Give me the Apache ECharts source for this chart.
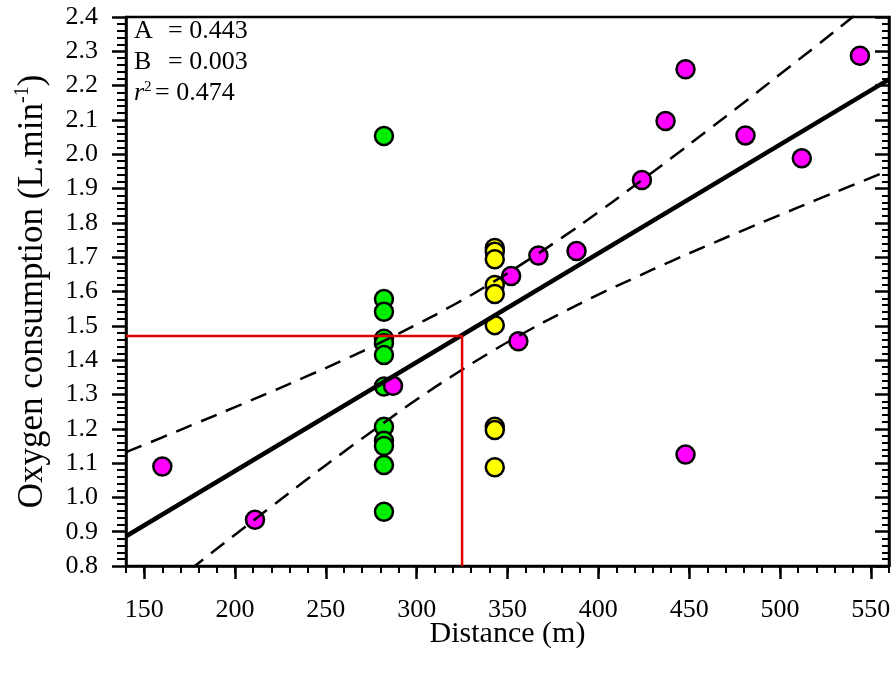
<!DOCTYPE html>
<html>
<head>
<meta charset="utf-8">
<title>Oxygen consumption vs distance</title>
<script src="https://cdn.jsdelivr.net/npm/echarts@6/dist/echarts.min.js"></script>
<style>
  html, body { margin: 0; padding: 0; background: #fff; }
  #chart { width: 895px; height: 681px; }
</style>
</head>
<body>
<div id="chart"></div>
<script>
// Measured runs: distance (m) and oxygen consumption (L/min), by group
const greenDist = [282, 282, 282, 282, 282, 282, 282, 282, 282, 282, 282, 282];
const greenO2 = [2.053, 1.578, 1.541, 1.462, 1.450, 1.415, 1.323, 1.206, 1.165, 1.150, 1.094, 0.958];

const yellowDist = [343, 343, 343, 343, 343, 343, 343, 343, 343];
const yellowO2 = [1.727, 1.716, 1.694, 1.619, 1.593, 1.502, 1.206, 1.196, 1.088];

const magentaDist = [160, 211, 287, 352, 356, 367, 388, 424, 437, 448, 448, 481, 512, 544];
const magentaO2 = [1.090, 0.935, 1.325, 1.645, 1.455, 1.705, 1.718, 1.925, 2.097, 2.248, 1.125, 2.055, 1.988, 2.287];

// Linear fit y = A + B*x and its 95% confidence band
const fitA = 0.443;
const fitB = 0.00317;
const fitR2 = 0.474;
const bandX = [140, 160, 180, 200, 220, 240, 260, 280, 300, 320, 340, 360, 380, 400, 420, 440, 460, 480, 500, 520, 540, 560];
const bandUpper = [1.132, 1.175, 1.219, 1.263, 1.308, 1.354, 1.401, 1.451, 1.504, 1.560, 1.621, 1.687, 1.757, 1.831, 1.909, 1.988, 2.069, 2.150, 2.233, 2.316, 2.400, 2.484];
const bandLower = [0.642, 0.726, 0.809, 0.891, 0.973, 1.054, 1.133, 1.210, 1.285, 1.355, 1.421, 1.482, 1.538, 1.591, 1.640, 1.688, 1.734, 1.779, 1.823, 1.867, 1.910, 1.953];

// Reference reading: distance and predicted consumption
const refDist = 325;
const refO2 = 1.47;

// Axis extents and tick positions
const xRange = [140, 560];
const xMajorTicks = [150, 200, 250, 300, 350, 400, 450, 500, 550];
const xMinorTicks = [140, 150, 160, 170, 180, 190, 200, 210, 220, 230, 240, 250, 260, 270, 280, 290, 300, 310, 320, 330, 340, 350, 360, 370, 380, 390, 400, 410, 420, 430, 440, 450, 460, 470, 480, 490, 500, 510, 520, 530, 540, 550, 560];
const yRange = [0.8, 2.4];
const yStep = 0.1;

const zip = (xs, ys) => xs.map((x, i) => [x, ys[i]]);

const FONT = "'Liberation Serif', 'Times New Roman', serif";
const labelStyle = { color: '#000', fontFamily: FONT, fontSize: 26 };
const AXIS_W = 2.5;

const chart = echarts.init(document.getElementById('chart'), null, { renderer: 'canvas' });

const dotStyle = (fill) => ({
  color: fill,
  borderColor: '#000',
  borderWidth: 2.5,
  opacity: 1
});

const option = {
  animation: false,
  backgroundColor: '#fff',
  grid: {
    left: 126, right: 6, top: 17, bottom: 115,
    show: true, borderColor: '#000', borderWidth: AXIS_W, backgroundColor: 'transparent'
  },
  xAxis: [
    {
      type: 'value', position: 'bottom', min: xRange[0], max: xRange[1],
      name: 'Distance (m)', nameLocation: 'middle', nameGap: 53, nameMoveOverlap: false,
      nameTextStyle: { color: '#000', fontFamily: FONT, fontSize: 30 },
      axisLine: { show: true, onZero: false, lineStyle: { color: '#000', width: AXIS_W } },
      axisTick: { show: true, customValues: xMajorTicks, length: 13, lineStyle: { color: '#000', width: 2.5 } },
      axisLabel: Object.assign({ customValues: xMajorTicks, margin: 31, formatter: v => String(v) }, labelStyle),
      splitLine: { show: false }
    },
    {
      type: 'value', position: 'bottom', min: xRange[0], max: xRange[1],
      axisLine: { show: false },
      axisTick: { show: true, customValues: xMinorTicks, length: 7, lineStyle: { color: '#000', width: 2 } },
      axisLabel: { show: false },
      splitLine: { show: false }
    }
  ],
  yAxis: [
    {
      type: 'value', position: 'left', min: yRange[0], max: yRange[1], interval: yStep,
      name: '{t|Oxygen consumption (L.min}{s|-1}{t|)}', nameLocation: 'middle', nameGap: 73, nameRotate: 90,
      nameMoveOverlap: false,
      nameTextStyle: {
        color: '#000', fontFamily: FONT, fontSize: 35,
        rich: {
          t: { color: '#000', fontFamily: FONT, fontSize: 35, lineHeight: 40 },
          s: { color: '#000', fontFamily: FONT, fontSize: 20, verticalAlign: 'top', lineHeight: 40 }
        }
      },
      axisLine: { show: true, onZero: false, lineStyle: { color: '#000', width: AXIS_W } },
      axisTick: { show: true, length: 14, lineStyle: { color: '#000', width: 2.5 } },
      minorTick: { show: true, splitNumber: 5, length: 9, lineStyle: { color: '#000', width: 2 } },
      axisLabel: Object.assign({ margin: 28, formatter: v => v.toFixed(1) }, labelStyle),
      splitLine: { show: false },
      minorSplitLine: { show: false }
    },
    {
      type: 'value', position: 'right', min: yRange[0], max: yRange[1], interval: yStep,
      axisLine: { show: true, onZero: false, lineStyle: { color: '#000', width: AXIS_W } },
      axisTick: { show: true, inside: true, length: 14, lineStyle: { color: '#000', width: 2.5 } },
      minorTick: { show: true, splitNumber: 5, length: 7, lineStyle: { color: '#000', width: 2 } },
      axisLabel: { show: false },
      splitLine: { show: false }
    }
  ],
  series: [
    {
      name: 'Group 1', type: 'scatter', symbol: 'circle', symbolSize: 18,
      data: zip(greenDist, greenO2), itemStyle: dotStyle('#00ee00'), z: 3
    },
    {
      name: 'Group 2', type: 'scatter', symbol: 'circle', symbolSize: 18,
      data: zip(yellowDist, yellowO2), itemStyle: dotStyle('#ffff00'), z: 3
    },
    {
      name: 'Group 3', type: 'scatter', symbol: 'circle', symbolSize: 18,
      data: zip(magentaDist, magentaO2), itemStyle: dotStyle('#ff00ff'), z: 3
    },
    {
      name: 'Fit', type: 'line', showSymbol: false, clip: true, z: 5,
      data: xRange.map(x => [x, fitA + fitB * x]),
      lineStyle: { color: '#000', width: 4.5 }
    },
    {
      name: 'Upper 95%', type: 'line', showSymbol: false, smooth: true, clip: true, z: 5,
      data: zip(bandX, bandUpper),
      lineStyle: { color: '#000', width: 2.5, type: [17, 10] }
    },
    {
      name: 'Lower 95%', type: 'line', showSymbol: false, smooth: true, clip: true, z: 5,
      data: zip(bandX, bandLower),
      lineStyle: { color: '#000', width: 2.5, type: [17, 10] }
    },
    {
      name: 'Reading', type: 'line', showSymbol: false, clip: true, z: 6,
      data: [[xRange[0], refO2], [refDist, refO2], [refDist, yRange[0]]],
      lineStyle: { color: '#e00000', width: 2.5 }
    }
  ],
  graphic: [
    { type: 'text', left: 134, top: 18, z: 10,
      style: { text: 'A', fill: '#000', font: '26px ' + FONT } },
    { type: 'text', left: 168, top: 18, z: 10,
      style: { text: '= ' + fitA.toFixed(3), fill: '#000', font: '26px ' + FONT } },
    { type: 'text', left: 134, top: 49, z: 10,
      style: { text: 'B', fill: '#000', font: '26px ' + FONT } },
    { type: 'text', left: 168, top: 49, z: 10,
      style: { text: '= ' + fitB.toFixed(3), fill: '#000', font: '26px ' + FONT } },
    { type: 'text', left: 134, top: 80, z: 10,
      style: { text: 'r', fill: '#000', font: 'italic 26px ' + FONT } },
    { type: 'text', left: 144, top: 80, z: 10,
      style: { text: '2', fill: '#000', font: '15px ' + FONT } },
    { type: 'text', left: 155, top: 80, z: 10,
      style: { text: '= ' + fitR2.toFixed(3), fill: '#000', font: '26px ' + FONT } }
  ]
};

chart.setOption(option);
</script>
</body>
</html>
